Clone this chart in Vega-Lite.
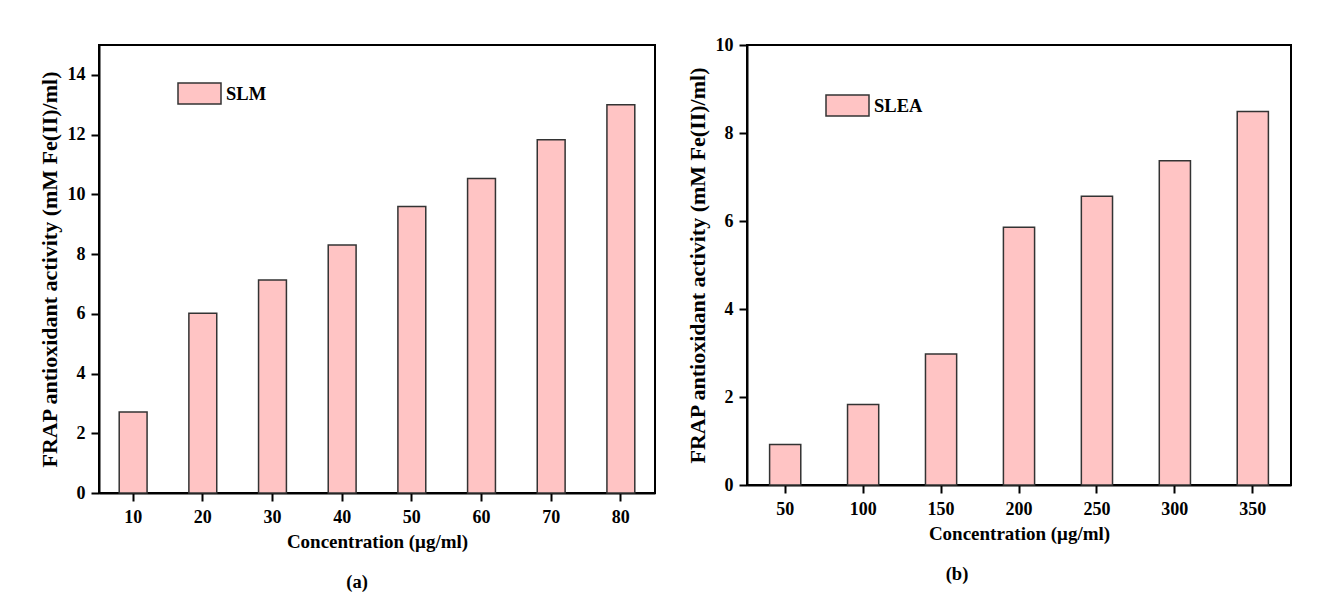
{
  "$schema": "https://vega.github.io/schema/vega-lite/v6.json",
  "background": "white",
  "padding": {"left": 37, "top": 35, "right": 5, "bottom": 5},
  "bounds": "flush",
  "spacing": 92,
  "config": {
    "font": "Liberation Serif",
    "view": {"stroke": "black", "strokeWidth": 2},
    "axis": {
      "grid": false,
      "labelFont": "Liberation Serif", "labelFontWeight": "bold", "labelFontSize": 18, "labelColor": "black",
      "titleFont": "Liberation Serif", "titleFontWeight": "bold", "titleColor": "black",
      "domainColor": "black", "domainWidth": 2, "tickColor": "black", "tickWidth": 2, "tickSize": 8
    },
    "axisX": {"labelPadding": 7, "titleFontSize": 19, "titlePadding": 6, "labelAngle": 0},
    "axisY": {"labelPadding": 6, "titleFontSize": 22, "titlePadding": 6},
    "legend": {
      "orient": "none", "title": null, "padding": 0,
      "symbolType": "M-1,-0.49H1V0.49H-1Z", "symbolSize": 1849,
      "symbolStrokeColor": "#333333", "symbolStrokeWidth": 1.5, "symbolOpacity": 1,
      "labelFont": "Liberation Serif", "labelFontWeight": "bold", "labelFontSize": 18.5, "labelColor": "black", "labelOffset": 4
    },
    "title": {"font": "Liberation Serif", "fontWeight": "bold", "fontSize": 18.5, "color": "black", "orient": "bottom", "anchor": "middle", "frame": "group", "offset": 22}
  },
  "datasets": {
    "a": [
      {"concentration": 10, "frap": 2.71, "sample": "SLM"},
      {"concentration": 20, "frap": 6.02, "sample": "SLM"},
      {"concentration": 30, "frap": 7.13, "sample": "SLM"},
      {"concentration": 40, "frap": 8.3, "sample": "SLM"},
      {"concentration": 50, "frap": 9.59, "sample": "SLM"},
      {"concentration": 60, "frap": 10.53, "sample": "SLM"},
      {"concentration": 70, "frap": 11.83, "sample": "SLM"},
      {"concentration": 80, "frap": 13.0, "sample": "SLM"}
    ],
    "b": [
      {"concentration": 50, "frap": 0.92, "sample": "SLEA"},
      {"concentration": 100, "frap": 1.83, "sample": "SLEA"},
      {"concentration": 150, "frap": 2.98, "sample": "SLEA"},
      {"concentration": 200, "frap": 5.86, "sample": "SLEA"},
      {"concentration": 250, "frap": 6.56, "sample": "SLEA"},
      {"concentration": 300, "frap": 7.37, "sample": "SLEA"},
      {"concentration": 350, "frap": 8.49, "sample": "SLEA"}
    ]
  },
  "hconcat": [
    {
      "width": 556, "height": 448,
      "data": {"name": "a"},
      "title": {"text": "(a)", "dx": -20},
      "mark": {"type": "bar", "stroke": "#333333", "strokeWidth": 1.5},
      "encoding": {
        "x": {"field": "concentration", "type": "ordinal", "sort": null,
              "scale": {"paddingInner": 0.6, "paddingOuter": 0.29},
              "axis": {"title": "Concentration (μg/ml)"}},
        "y": {"field": "frap", "type": "quantitative",
              "scale": {"domain": [0, 15], "nice": false},
              "axis": {"values": [0, 2, 4, 6, 8, 10, 12, 14], "title": "FRAP antioxidant activity (mM Fe(II)/ml)"}},
        "fill": {"field": "sample", "type": "nominal", "scale": {"range": ["#FFC4C4"]},
                 "legend": {"legendX": 78, "legendY": 26}}
      }
    },
    {
      "width": 544, "height": 440,
      "data": {"name": "b"},
      "title": {"text": "(b)", "dx": -62},
      "mark": {"type": "bar", "stroke": "#333333", "strokeWidth": 1.5},
      "encoding": {
        "x": {"field": "concentration", "type": "ordinal", "sort": null,
              "scale": {"paddingInner": 0.6, "paddingOuter": 0.29},
              "axis": {"title": "Concentration (μg/ml)"}},
        "y": {"field": "frap", "type": "quantitative",
              "scale": {"domain": [0, 10], "nice": false},
              "axis": {"values": [0, 2, 4, 6, 8, 10], "title": "FRAP antioxidant activity (mM Fe(II)/ml)"}},
        "fill": {"field": "sample", "type": "nominal", "scale": {"range": ["#FFC4C4"]},
                 "legend": {"legendX": 78, "legendY": 38}}
      }
    }
  ],
  "resolve": {"scale": {"fill": "independent", "x": "independent", "y": "independent"}, "legend": {"fill": "independent"}}
}
